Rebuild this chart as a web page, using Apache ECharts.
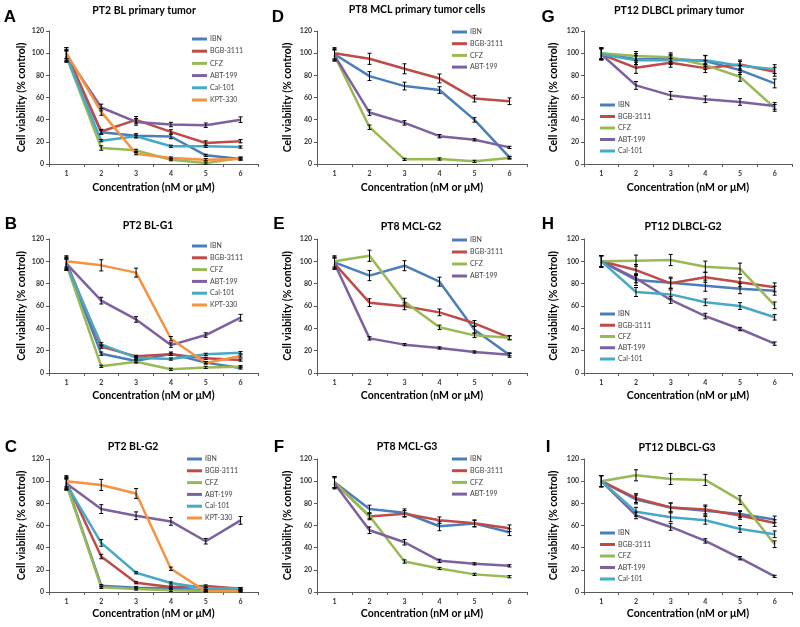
<!DOCTYPE html>
<html><head><meta charset="utf-8">
<script src="https://cdn.jsdelivr.net/npm/echarts@6/dist/echarts.min.js"></script>
<style>html,body{margin:0;padding:0;background:#fff}#c{width:800px;height:627px}</style>
</head><body><div id="c"></div>
<script>
// ---------- shared ----------
const categories = ['1','2','3','4','5','6'];
const yTicks = [0,20,40,60,80,100,120];
const xAxisTitle = 'Concentration (nM or μM)';
const yAxisTitle = 'Cell viability (% control)';
const namesSix = ['IBN','BGB-3111','CFZ','ABT-199','Cal-101','KPT-330'];
const namesFour = ['IBN','BGB-3111','CFZ','ABT-199'];
const namesFive = ['IBN','BGB-3111','CFZ','ABT-199','Cal-101'];

// ---------- Panel A: PT2 BL primary tumor ----------
const A_IBN = [98, 28.7, 25.4, 24.8, 7.8, 4.5];
const A_BGB = [100, 29.3, 39.8, 29, 18.9, 20.6];
const A_CFZ = [97, 14.4, 12.3, 3.9, 0.8, 5.4];
const A_ABT = [98, 51, 38, 35.6, 35, 40];
const A_CAL = [97, 21, 25, 16, 16, 15.3];
const A_KPT = [100, 47, 9.3, 5.4, 3.9, 4.5];
const A_IBN_err = [5, 2, 2, 2, 1, 1];
const A_BGB_err = [5, 2, 3, 2, 2, 1.5];
const A_CFZ_err = [5, 2, 1, 1, 1, 1];
const A_ABT_err = [5, 3, 3, 2, 2, 2.5];
const A_CAL_err = [5, 1, 1, 1, 1, 1];
const A_KPT_err = [5, 3, 1, 1, 1, 1];

// ---------- Panel B: PT2 BL-G1 ----------
const B_IBN = [98, 17.3, 10.7, 17.3, 9.3, 4.5];
const B_BGB = [99, 23.6, 14.9, 16.7, 13.1, 11.6];
const B_CFZ = [97, 6, 10, 3.3, 5, 5.7];
const B_ABT = [98, 64.8, 48, 25, 34, 49.5];
const B_CAL = [97, 25.7, 13.7, 12.5, 16.7, 18.2];
const B_KPT = [100, 96.4, 89.9, 30.7, 9, 15.2];
const B_IBN_err = [5, 1.5, 1.5, 1.5, 1, 1];
const B_BGB_err = [5, 1.5, 1, 1, 1, 1];
const B_CFZ_err = [5, 1, 1, 1, 1, 1];
const B_ABT_err = [5, 3, 2.5, 2, 2, 3];
const B_CAL_err = [5, 1.5, 1, 1, 1, 1];
const B_KPT_err = [5, 5, 4, 2, 1, 1];

// ---------- Panel C: PT2 BL-G2 ----------
const C_IBN = [98, 5.7, 3.9, 3.3, 1.5, 2];
const C_BGB = [99, 32, 8.4, 4.5, 5.4, 3];
const C_CFZ = [97, 4.2, 2.7, 1.5, 1, 1];
const C_ABT = [98, 74.8, 68.8, 63.7, 45.8, 64.6];
const C_CAL = [97, 44.3, 17.4, 8.1, 3.3, 3];
const C_KPT = [100, 96.6, 88.9, 21, 0.6, 0.6];
const C_IBN_err = [5, 1, 1, 1, 1, 1];
const C_BGB_err = [5, 2, 1, 1, 1, 1];
const C_CFZ_err = [5, 1, 1, 1, 1, 1];
const C_ABT_err = [5, 4, 3.5, 3.5, 2.5, 3.5];
const C_CAL_err = [5, 3, 1, 1, 1, 1];
const C_KPT_err = [5, 5, 4.5, 1.5, 0.5, 0.5];

// ---------- Panel D: PT8 MCL primary tumor cells ----------
const D_IBN = [99, 79.3, 70.3, 66.7, 39.8, 6];
const D_BGB = [100, 94.9, 85.9, 77.2, 59, 56.6];
const D_CFZ = [98, 33.2, 4.2, 4.5, 2.4, 5.4];
const D_ABT = [98, 46.4, 37.1, 25.1, 21.8, 15];
const D_IBN_err = [5, 4, 3.5, 3, 2, 1];
const D_BGB_err = [5, 5, 4.5, 4, 3, 3];
const D_CFZ_err = [5, 2, 1, 1, 1, 1];
const D_ABT_err = [5, 2.5, 2, 1.5, 1, 1];

// ---------- Panel E: PT8 MCL-G2 ----------
const E_IBN = [99, 87.2, 96.1, 81.8, 38.8, 16.1];
const E_BGB = [98, 63, 59.7, 54.3, 44.5, 31.6];
const E_CFZ = [100, 105, 63.9, 40.9, 33.7, 31.6];
const E_ABT = [98, 31, 25.4, 22.4, 18.8, 16.4];
const E_IBN_err = [5, 4.5, 4.5, 4, 3, 2];
const E_BGB_err = [5, 3.5, 3, 3, 2.5, 2];
const E_CFZ_err = [5, 5, 3, 2, 2, 1.5];
const E_ABT_err = [5, 1.5, 1, 1, 1, 1];

// ---------- Panel F: PT8 MCL-G3 ----------
const F_IBN = [99, 74.8, 71.5, 59.3, 61.7, 53.9];
const F_BGB = [99, 68.2, 70.6, 64.7, 62, 57.5];
const F_CFZ = [99, 68.5, 27.5, 21.2, 15.9, 13.8];
const F_ABT = [98, 55.7, 44.9, 28.1, 25.4, 23.6];
const F_IBN_err = [5, 3.5, 3.5, 4, 3, 3];
const F_BGB_err = [5, 3, 3, 3, 3, 3];
const F_CFZ_err = [5, 2, 1.5, 1, 1, 1];
const F_ABT_err = [5, 3, 2.5, 1.5, 1, 1];

// ---------- Panel G: PT12 DLBCL primary tumor ----------
const G_IBN = [100, 94.6, 94.9, 93, 84.7, 72.7];
const G_BGB = [99, 86.8, 91.3, 86.5, 89.8, 83.2];
const G_CFZ = [100, 97.5, 96.3, 89.2, 78.7, 50.6];
const G_ABT = [99, 70.9, 61.9, 58.4, 56, 52.4];
const G_CAL = [99, 93.7, 93.7, 93.7, 88.6, 85.6];
const G_IBN_err = [5, 5, 4, 5, 4, 4];
const G_BGB_err = [5, 5, 4, 4, 4, 4];
const G_CFZ_err = [5, 4, 4, 4, 4, 3];
const G_ABT_err = [5, 3.5, 3.5, 3, 3, 3];
const G_CAL_err = [5, 4, 4, 4, 4, 4];

// ---------- Panel H: PT12 DLBCL-G2 ----------
const H_IBN = [100, 83.3, 80.9, 78.2, 75.5, 73.7];
const H_BGB = [100, 92.2, 80.3, 85.7, 81.2, 76.7];
const H_CFZ = [100, 100.6, 101.2, 95.2, 93.4, 60.6];
const H_ABT = [100, 84.8, 65.4, 51, 39.4, 26.3];
const H_CAL = [100, 72.5, 70.4, 63.3, 60, 49.9];
const H_IBN_err = [5, 5, 5, 5, 4.5, 4];
const H_BGB_err = [5, 5, 4.5, 4.5, 4, 4];
const H_CFZ_err = [5, 5, 5, 5, 5, 3];
const H_ABT_err = [5, 4, 3, 2.5, 1.5, 1.5];
const H_CAL_err = [5, 4, 4, 3, 3, 2.5];

// ---------- Panel I: PT12 DLBCL-G3 ----------
const I_IBN = [100, 83.5, 76.3, 73.3, 70.4, 65.5];
const I_BGB = [100, 84.7, 76.3, 74.5, 69.1, 62.2];
const I_CFZ = [100, 105.3, 102, 101.1, 82.9, 43.1];
const I_ABT = [100, 69.1, 58.7, 46.1, 30.5, 14.1];
const I_CAL = [100, 72.4, 67.4, 64.7, 56.9, 52.1];
const I_IBN_err = [5, 4, 4, 4, 3, 3];
const I_BGB_err = [5, 4, 4, 4, 3.5, 3];
const I_CFZ_err = [5, 5, 5, 5, 4, 3];
const I_ABT_err = [5, 3, 3, 2, 1.5, 1];
const I_CAL_err = [5, 4, 4, 3.5, 3, 3];

// ---------- styles / layout ----------
const seriesColors = {
  'IBN': '#4A7EBB', 'BGB-3111': '#BE4B48', 'CFZ': '#98B954',
  'ABT-199': '#7D60A0', 'Cal-101': '#46AAC5', 'KPT-330': '#F69240'
};
const FONT = 'Lato, "Liberation Sans", Arial, sans-serif';

const panels = [
  {letter:'A', title:'PT2 BL primary tumor', names:namesSix,
   values:[A_IBN,A_BGB,A_CFZ,A_ABT,A_CAL,A_KPT], errs:[A_IBN_err,A_BGB_err,A_CFZ_err,A_ABT_err,A_CAL_err,A_KPT_err],
   grid:[49,31,209,133], titlePos:[144,11], letterPos:[10,17], yGap:22, xGap:18, legend:[192,39,12.2]},
  {letter:'D', title:'PT8 MCL primary tumor cells', names:namesFour,
   values:[D_IBN,D_BGB,D_CFZ,D_ABT], errs:[D_IBN_err,D_BGB_err,D_CFZ_err,D_ABT_err],
   grid:[317,31,210,133], titlePos:[417,10], letterPos:[278,17], yGap:24, xGap:18, legend:[452,32,11.7]},
  {letter:'G', title:'PT12 DLBCL primary tumor', names:namesFive,
   values:[G_IBN,G_BGB,G_CFZ,G_ABT,G_CAL], errs:[G_IBN_err,G_BGB_err,G_CFZ_err,G_ABT_err,G_CAL_err],
   grid:[584,31,208,133], titlePos:[679,11], letterPos:[548,17], yGap:25, xGap:18, legend:[600,105,11.5]},
  {letter:'B', title:'PT2 BL-G1', names:namesSix,
   values:[B_IBN,B_BGB,B_CFZ,B_ABT,B_CAL,B_KPT], errs:[B_IBN_err,B_BGB_err,B_CFZ_err,B_ABT_err,B_CAL_err,B_KPT_err],
   grid:[49,239,209,134], titlePos:[148,226], letterPos:[11,224], yGap:22, xGap:17, legend:[192,246,11.8]},
  {letter:'E', title:'PT8 MCL-G2', names:namesFour,
   values:[E_IBN,E_BGB,E_CFZ,E_ABT], errs:[E_IBN_err,E_BGB_err,E_CFZ_err,E_ABT_err],
   grid:[317,239,210,134], titlePos:[411,227], letterPos:[279,224], yGap:24, xGap:17, legend:[452,240,12]},
  {letter:'H', title:'PT12 DLBCL-G2', names:namesFive,
   values:[H_IBN,H_BGB,H_CFZ,H_ABT,H_CAL], errs:[H_IBN_err,H_BGB_err,H_CFZ_err,H_ABT_err,H_CAL_err],
   grid:[584,239,208,134], titlePos:[683,227], letterPos:[548,224], yGap:25, xGap:17, legend:[600,314,11.25]},
  {letter:'C', title:'PT2 BL-G2', names:namesSix,
   values:[C_IBN,C_BGB,C_CFZ,C_ABT,C_CAL,C_KPT], errs:[C_IBN_err,C_BGB_err,C_CFZ_err,C_ABT_err,C_CAL_err,C_KPT_err],
   grid:[49,459,209,133], titlePos:[133,447], letterPos:[11,447], yGap:22, xGap:16, legend:[187,459,11.8]},
  {letter:'F', title:'PT8 MCL-G3', names:namesFour,
   values:[F_IBN,F_BGB,F_CFZ,F_ABT], errs:[F_IBN_err,F_BGB_err,F_CFZ_err,F_ABT_err],
   grid:[317,459,210,133], titlePos:[407,447], letterPos:[279,447], yGap:24, xGap:16, legend:[452,459,11.7]},
  {letter:'I', title:'PT12 DLBCL-G3', names:namesFive,
   values:[I_IBN,I_BGB,I_CFZ,I_ABT,I_CAL], errs:[I_IBN_err,I_BGB_err,I_CFZ_err,I_ABT_err,I_CAL_err],
   grid:[584,459,208,133], titlePos:[677,448], letterPos:[548,447], yGap:25, xGap:16, legend:[600,533,11.5]}
];

function renderErr(params, api) {
  const x = api.value(0);
  const lo = api.coord([x, api.value(1)]);
  const hi = api.coord([x, api.value(2)]);
  const cw = 2;
  const st = {stroke:'#000', lineWidth:1};
  return {type:'group', children:[
    {type:'line', shape:{x1:lo[0], y1:lo[1], x2:hi[0], y2:hi[1]}, style:st},
    {type:'line', shape:{x1:lo[0]-cw, y1:lo[1], x2:lo[0]+cw, y2:lo[1]}, style:st},
    {type:'line', shape:{x1:hi[0]-cw, y1:hi[1], x2:hi[0]+cw, y2:hi[1]}, style:st}
  ]};
}

const grids = [], xAxes = [], yAxes = [], series = [], legends = [], graphics = [];
const axisColor = '#595959';
panels.forEach((p, i) => {
  grids.push({left:p.grid[0], top:p.grid[1], width:p.grid[2], height:p.grid[3], containLabel:false});
  xAxes.push({type:'category', gridIndex:i, data:categories, boundaryGap:true,
    name:xAxisTitle, nameLocation:'middle', nameGap:p.xGap,
    nameTextStyle:{fontFamily:FONT, fontWeight:'bold', fontSize:10.5, color:'#000'},
    axisLine:{lineStyle:{color:axisColor, width:1}},
    axisTick:{show:true, length:3, lineStyle:{color:axisColor}},
    axisLabel:{fontFamily:FONT, fontSize:7, fontWeight:'bold', color:'#333', margin:6}});
  yAxes.push({type:'value', gridIndex:i, min:yTicks[0], max:yTicks[yTicks.length-1], interval:yTicks[1]-yTicks[0],
    name:yAxisTitle, nameLocation:'middle', nameGap:p.yGap,
    nameTextStyle:{fontFamily:FONT, fontWeight:'bold', fontSize:10.5, color:'#000'},
    axisLine:{show:true, lineStyle:{color:axisColor, width:1}},
    axisTick:{show:true, length:3, lineStyle:{color:axisColor}},
    splitLine:{show:false},
    axisLabel:{fontFamily:FONT, fontSize:7, fontWeight:'bold', color:'#333', margin:5}});
  p.names.forEach((n, j) => {
    series.push({type:'line', name:n, xAxisIndex:i, yAxisIndex:i, data:p.values[j],
      symbol:'none', lineStyle:{width:2.5, color:seriesColors[n]}, itemStyle:{color:seriesColors[n]},
      z:2, animation:false});
  });
  p.names.forEach((n, j) => {
    series.push({type:'custom', xAxisIndex:i, yAxisIndex:i, silent:true, z:3, animation:false,
      data:p.values[j].map((v, k) => [k, v - p.errs[j][k], v + p.errs[j][k]]),
      encode:{x:0, y:[1,2]}, renderItem:renderErr});
  });
  const sp = p.legend[2];
  legends.push({orient:'vertical', left:p.legend[0], top:p.legend[1] - sp/2, data:p.names,
    icon:'rect', itemWidth:15, itemHeight:3, itemGap:0, padding:0,
    textStyle:{fontFamily:FONT, fontSize:7, color:'#404040', lineHeight:sp, padding:[0,0,0,-2]},
    selectedMode:false});
  graphics.push({type:'text', x:p.titlePos[0], y:p.titlePos[1],
    style:{text:p.title, fontFamily:FONT, fontWeight:'bold', fontSize:10.5, fill:'#000', textAlign:'center', textVerticalAlign:'middle'}});
  graphics.push({type:'text', x:p.letterPos[0], y:p.letterPos[1],
    style:{text:p.letter, fontFamily:'"Liberation Sans", Arial, sans-serif', fontWeight:'bold', fontSize:17, fill:'#000', textAlign:'center', textVerticalAlign:'middle'}});
});

const chart = echarts.init(document.getElementById('c'), null, {renderer:'canvas'});
chart.setOption({
  animation:false, backgroundColor:'#fff',
  grid:grids, xAxis:xAxes, yAxis:yAxes, series:series, legend:legends, graphic:graphics
});
</script></body></html>
